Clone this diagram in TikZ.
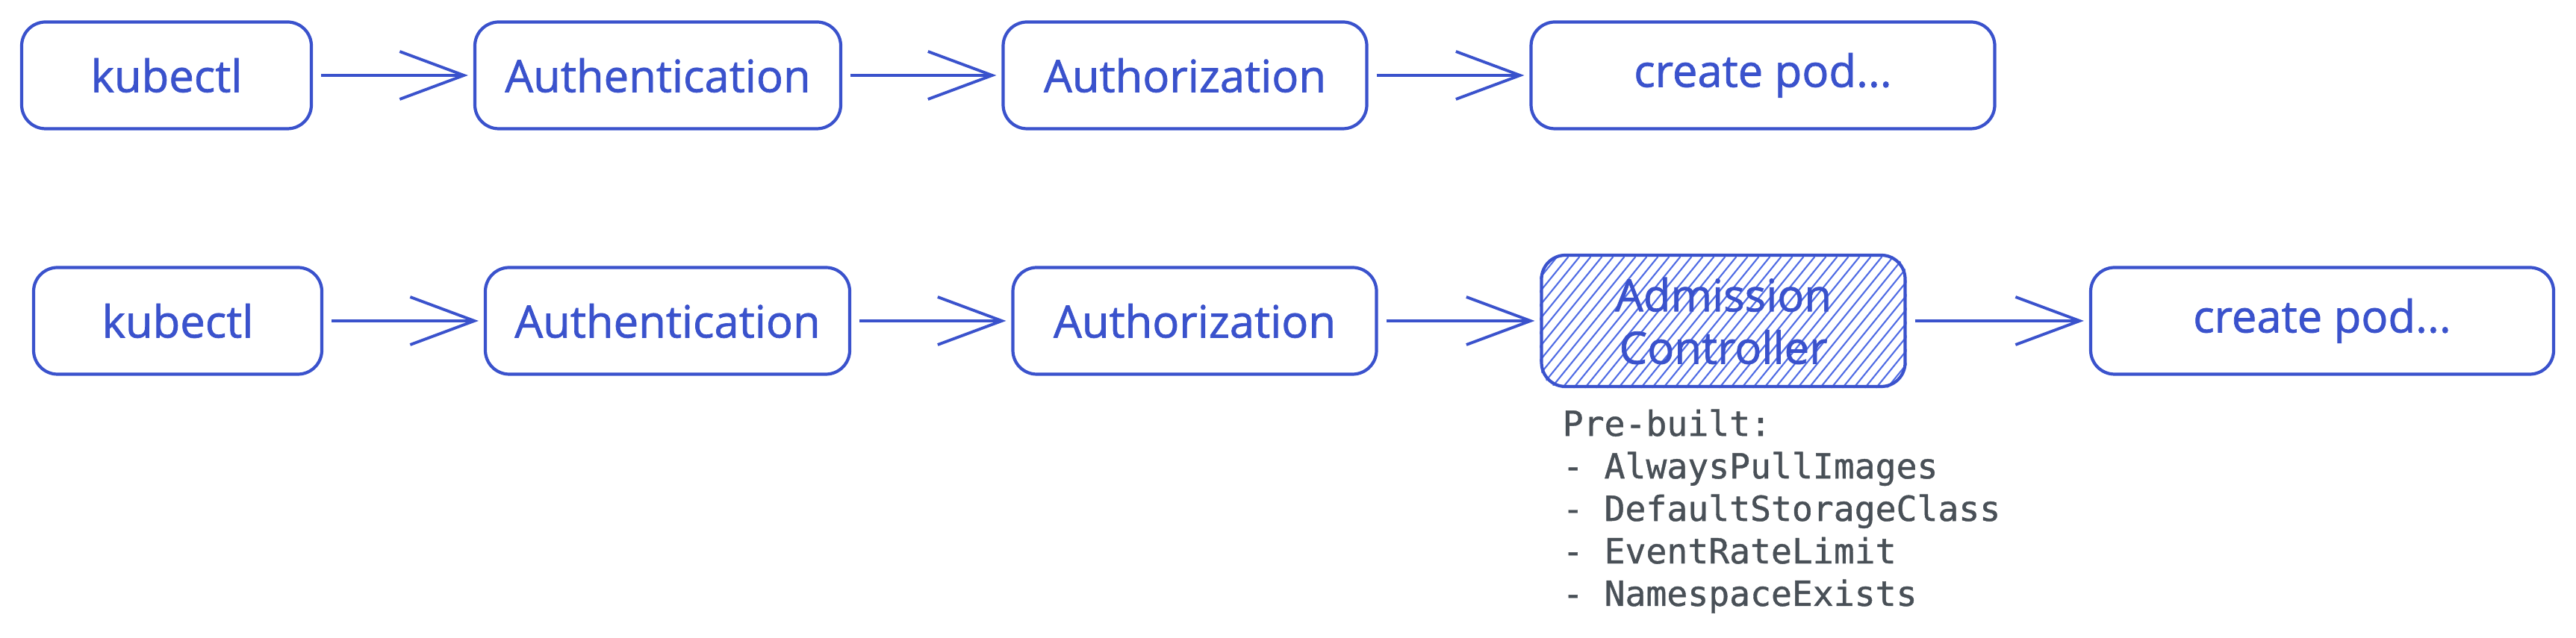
\documentclass[tikz,border=0pt]{standalone}
\usepackage{fontspec}
\setmainfont{Open Sans}[FakeBold=1.2]
\setmonofont{DejaVu Sans Mono}[FakeBold=0.9]
\usetikzlibrary{arrows.meta,backgrounds}
\definecolor{sketchblue}{RGB}{58,82,204}
\definecolor{hatchblue}{RGB}{80,108,228}
\definecolor{codegray}{RGB}{73,80,87}
\tikzset{
    stepbox/.style={draw=sketchblue, line width=1.2pt, rounded corners=0.32cm,
        minimum height=1.43cm, inner sep=0pt, align=center,
        text=sketchblue, font=\fontsize{17pt}{20pt}\selectfont},
    flow/.style={draw=sketchblue, line width=1.1pt,
        -{Straight Barb[length=8.6mm,width=6.4mm]},
        shorten <=0.11cm, shorten >=0.07cm},
}
\begin{document}
\begin{tikzpicture}
    \useasboundingbox (0,0) rectangle (34.5,8.55);
    % plain request path
    \node[stepbox, minimum width=3.88cm] (kube1) at (2.23,7.54) {kubectl};
    \node[stepbox, minimum width=4.90cm] (authn1) at (8.81,7.54) {Authentication};
    \node[stepbox, minimum width=4.87cm] (authz1) at (15.87,7.54) {Authorization};
    \node[stepbox, minimum width=6.21cm] (pod1) at (23.61,7.54) {create pod...};
    \draw[flow] (kube1) -- (authn1);
    \draw[flow] (authn1) -- (authz1);
    \draw[flow] (authz1) -- (pod1);
    % request path with admission control
    \node[stepbox, minimum width=3.86cm] (kube2) at (2.38,4.25) {kubectl};
    \node[stepbox, minimum width=4.88cm] (authn2) at (8.94,4.25) {Authentication};
    \node[stepbox, minimum width=4.87cm] (authz2) at (16.00,4.25) {Authorization};
    \node[stepbox, minimum width=4.87cm, minimum height=1.76cm] (admit) at (23.08,4.25) {Admission\\Controller};
    \node[stepbox, minimum width=6.20cm] (pod2) at (31.10,4.25) {create pod...};
    \draw[flow] (kube2) -- (authn2);
    \draw[flow] (authn2) -- (authz2);
    \draw[flow] (authz2) -- (admit);
    \draw[flow] (admit) -- (pod2);
    \begin{scope}[on background layer]
        \clip[rounded corners=0.32cm] (admit.south west) rectangle (admit.north east);
        \foreach \x in {-1.5,-1.35,...,4.95}
            \draw[hatchblue, line width=0.6pt] ([xshift=\x cm]admit.south west) -- ++(1.43,1.76);
    \end{scope}
    \node[anchor=north west, inner sep=0pt, align=left, text=codegray,
        font=\ttfamily\fontsize{13.2pt}{16.2pt}\selectfont] (prebuilt) at (20.92,3.07)
        {Pre-built:\\- AlwaysPullImages\\- DefaultStorageClass\\- EventRateLimit\\- NamespaceExists};
\end{tikzpicture}
\end{document}
